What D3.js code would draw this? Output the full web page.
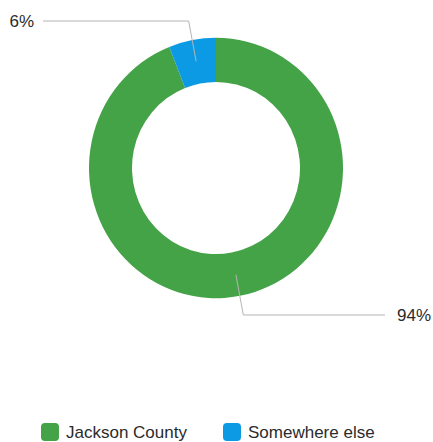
<!DOCTYPE html>
<html>
<head>
<meta charset="utf-8">
<script src="https://cdn.jsdelivr.net/npm/d3@7/dist/d3.min.js"></script>
<style>
  html, body { margin: 0; padding: 0; background: #fff; }
  svg text { font-family: "Liberation Sans", Arial, sans-serif; fill: #2b2b2b; }
</style>
</head>
<body>
<div id="chart"></div>
<script>
// data
const categories = ['Jackson County', 'Somewhere else'];
const values = [94, 6];
const colors = ['#44a247', '#0d9ae4'];

const width = 433;
const height = 442;
const cx = 216, cy = 168;
const outerR = 127, innerR = 84;
const yStretch = 1.025; // the reference is a touch taller than wide

const svg = d3.select('#chart')
    .append('svg')
    .attr('width', width)
    .attr('height', height);

const color = d3.scaleOrdinal().domain(categories).range(colors);

const pie = d3.pie().sort(null).value(d => d.value);
const arcs = pie(categories.map((c, i) => ({ name: c, value: values[i] })));

const arc = d3.arc().innerRadius(innerR).outerRadius(outerR);
const midArc = d3.arc().innerRadius(106).outerRadius(106);
const outArc = d3.arc().innerRadius(146).outerRadius(146);

const ring = svg.append('g')
    .attr('transform', `translate(${cx},${cy}) scale(1,${yStretch})`);

ring.selectAll('path.slice')
    .data(arcs)
    .enter().append('path')
    .attr('class', 'slice')
    .attr('d', arc)
    .style('fill', d => color(d.data.name));

// leader lines + labels
const g = svg.append('g').attr('transform', `translate(${cx},${cy})`);
const total = d3.sum(values);
arcs.forEach(d => {
    const p1 = midArc.centroid(d);
    const p2 = outArc.centroid(d);
    p1[1] *= yStretch;
    p2[1] *= yStretch;
    const right = p2[0] > 0;
    const xEnd = right ? 385 - cx : 43 - cx;
    g.append('polyline')
        .attr('points', [p1, p2, [xEnd, p2[1]]].map(p => p.join(',')).join(' '))
        .style('fill', 'none')
        .style('stroke', '#b5b5b5')
        .style('stroke-width', 1);
    g.append('text')
        .attr('x', right ? xEnd + 12 : xEnd - 9)
        .attr('y', p2[1])
        .attr('dy', '0.35em')
        .attr('text-anchor', right ? 'start' : 'end')
        .style('font-size', '17px')
        .text(Math.round(d.data.value / total * 100) + '%');
});

// legend
const legendX = [41, 223];
const legend = svg.append('g').selectAll('g')
    .data(categories)
    .enter().append('g')
    .attr('transform', (d, i) => `translate(${legendX[i]},432)`);

legend.append('rect')
    .attr('x', 0)
    .attr('y', -9)
    .attr('width', 18)
    .attr('height', 18)
    .attr('rx', 4)
    .style('fill', d => color(d));

legend.append('text')
    .attr('x', 25)
    .attr('y', 0)
    .attr('dy', '0.35em')
    .style('font-size', '17px')
    .text(d => d);
</script>
</body>
</html>
